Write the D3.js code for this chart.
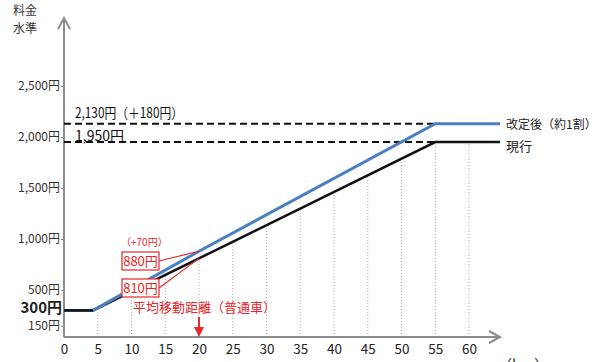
<!DOCTYPE html>
<html>
<head>
<meta charset="utf-8">
<script src="https://cdn.jsdelivr.net/npm/d3@7"></script>
<style>
  body { margin: 0; background: #fff; }
  svg { display: block; font-family: "Noto Sans CJK JP", "Noto Sans", sans-serif; }
</style>
</head>
<body>
<div id="chart"></div>
<script>
// Data
const distKm = [0, 4.3, 20, 55, 64.6];
const currentFare = [300, 300, 810, 1950, 1950];
const revisedFare = [300, 300, 880, 2130, 2130];
const xTicks = [0, 5, 10, 15, 20, 25, 30, 35, 40, 45, 50, 55, 60];
const yTicks = [150, 500, 1000, 1500, 2000, 2500];
const baseFare = 300;
const avgKm = 20;
const capKm = 55;

const svgWidth = 600;
const svgHeight = 362;

const svg = d3.select("#chart")
    .append("svg")
    .attr("width", svgWidth)
    .attr("height", svgHeight);

// Scales
const x = d3.scaleLinear().domain([0, 60]).range([64, 469]);
const y = d3.scaleLinear().domain([0, 2500]).range([341, 86]);
const axisY = 337;
const gray = "#8c8c8c";

// Dotted vertical grid, from the axis up to the current fare line
const currentAt = d3.scaleLinear().domain(distKm).range(currentFare);
svg.append("g")
    .selectAll("line")
    .data(xTicks.filter(d => d > 0))
    .join("line")
    .attr("x1", d => x(d)).attr("x2", d => x(d))
    .attr("y1", axisY).attr("y2", d => y(currentAt(d)))
    .attr("stroke", "#aaa")
    .attr("stroke-width", 1)
    .attr("stroke-dasharray", "1,2");

// Axes (drawn as arrows)
const axes = svg.append("g").attr("stroke", gray).attr("fill", "none").attr("stroke-width", 2);
axes.append("line").attr("x1", x(0)).attr("x2", x(0)).attr("y1", axisY).attr("y2", 18);
axes.append("path").attr("d", `M${x(0) - 6},29 L${x(0)},18 L${x(0) + 6},29`);
axes.append("line").attr("x1", x(0)).attr("x2", 500).attr("y1", axisY).attr("y2", axisY);
axes.append("path").attr("d", `M489,${axisY - 6} L500,${axisY} L489,${axisY + 6}`);

// y tick marks + labels
const yAxis = d3.axisLeft(y).tickValues(yTicks).tickSize(3).tickFormat(d => d3.format(",")(d) + "円");
const gy = svg.append("g").attr("transform", `translate(${x(0)},0)`).call(yAxis);
gy.select(".domain").remove();
gy.selectAll(".tick line").attr("stroke", gray);
gy.selectAll(".tick text")
    .attr("x", -4)
    .attr("fill", "#333")
    .attr("font-size", 12)
    .attr("font-family", "\"Noto Sans CJK JP\", sans-serif");

svg.append("text")
    .attr("x", 62).attr("y", y(baseFare) + 3)
    .attr("text-anchor", "end")
    .attr("font-size", 15).attr("font-weight", "bold").attr("fill", "#222")
    .text(d3.format(",")(baseFare) + "円");

// x tick labels
const xAxis = d3.axisBottom(x).tickValues(xTicks).tickSize(0).tickPadding(7);
const gx = svg.append("g").attr("transform", `translate(0,${axisY})`).call(xAxis);
gx.select(".domain").remove();
gx.selectAll(".tick text")
    .attr("fill", "#222")
    .attr("font-size", 13.5)
    .attr("font-family", "\"Noto Sans CJK JP\", sans-serif");

svg.append("text").attr("x", 497).attr("y", 371)
    .attr("font-size", 15).attr("fill", "#333").text("（km）");

// Axis title
svg.append("text").attr("x", 13).attr("y", 15).attr("font-size", 12).attr("fill", "#333").text("料金");
svg.append("text").attr("x", 13).attr("y", 33).attr("font-size", 12).attr("fill", "#333").text("水準");

// Dashed reference lines to the cap
const capCurrent = currentAt(capKm);
const capRevised = d3.scaleLinear().domain(distKm).range(revisedFare)(capKm);
svg.append("g")
    .selectAll("line")
    .data([capRevised, capCurrent])
    .join("line")
    .attr("x1", x(0)).attr("x2", x(capKm))
    .attr("y1", d => y(d)).attr("y2", d => y(d))
    .attr("stroke", "#111")
    .attr("stroke-width", 2)
    .attr("stroke-dasharray", "7,4");

svg.append("text").attr("x", 75).attr("y", y(capRevised) - 6)
    .attr("font-size", 14).attr("fill", "#111")
    .attr("textLength", 108).attr("lengthAdjust", "spacingAndGlyphs")
    .text(d3.format(",")(capRevised) + "円（＋" + (capRevised - capCurrent) + "円）");
svg.append("text").attr("x", 75).attr("y", y(capCurrent) - 1)
    .attr("font-size", 14).attr("fill", "#111")
    .text(d3.format(",")(capCurrent) + "円");

// Fare lines
const line = (vals) => d3.line().x(d => x(d)).y((d, i) => y(vals[i]))(distKm);
svg.append("path").attr("d", line(currentFare))
    .attr("fill", "none").attr("stroke", "#111").attr("stroke-width", 2.5);
svg.append("path").attr("d", line(revisedFare))
    .attr("fill", "none").attr("stroke", "#4a7fc1").attr("stroke-width", 3);
// black flat base drawn on top
svg.append("path").attr("d", d3.line()([[x(distKm[0]), y(currentFare[0])], [x(distKm[1]), y(currentFare[1])]]))
    .attr("stroke", "#111").attr("stroke-width", 2.5);

// Legend labels at the line ends
svg.append("text").attr("x", 506).attr("y", y(revisedFare[4]) + 5)
    .attr("font-size", 12).attr("fill", "#222")
    .text("改定後（約1割）");
svg.append("text").attr("x", 506).attr("y", y(currentFare[4]) + 9)
    .attr("font-size", 13).attr("fill", "#222").text("現行");

// Average distance annotations
const red = "#e8262b";
const revAvg = revisedFare[2];
const curAvg = currentFare[2];
const boxes = [
    { v: revAvg, top: 252 },
    { v: curAvg, top: 279 }
];
const ann = svg.append("g");
ann.selectAll("line")
    .data(boxes)
    .join("line")
    .attr("x1", 159).attr("y1", d => d.top + 9)
    .attr("x2", x(avgKm)).attr("y2", d => y(d.v))
    .attr("stroke", red).attr("stroke-width", 1.2);
ann.selectAll("rect")
    .data(boxes)
    .join("rect")
    .attr("x", 122).attr("y", d => d.top)
    .attr("width", 37).attr("height", 18)
    .attr("fill", "#fff").attr("stroke", red).attr("stroke-width", 1.2);
ann.selectAll("text.val")
    .data(boxes)
    .join("text")
    .attr("class", "val")
    .attr("x", 140.5).attr("y", d => d.top + 14)
    .attr("text-anchor", "middle")
    .attr("font-size", 13).attr("fill", red)
    .text(d => d.v + "円");

svg.append("text").attr("x", 121).attr("y", 246)
    .attr("font-size", 10).attr("fill", red)
    .text("（+" + (revAvg - curAvg) + "円）");
svg.append("text").attr("x", 133).attr("y", 312)
    .attr("font-size", 13).attr("fill", red)
    .text("平均移動距離（普通車）");

// Red arrow at the average distance
svg.append("line").attr("x1", x(avgKm)).attr("x2", x(avgKm)).attr("y1", 317).attr("y2", 328)
    .attr("stroke", red).attr("stroke-width", 2);
svg.append("path")
    .attr("d", `M${x(avgKm) - 5},327 L${x(avgKm) + 5},327 L${x(avgKm)},337 Z`)
    .attr("fill", red);
</script>
</body>
</html>
